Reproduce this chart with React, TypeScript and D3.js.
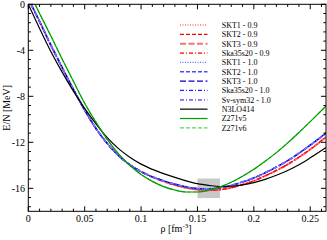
import React, { useRef, useEffect } from "react";
import * as d3 from "d3";

const WIDTH = 327;
const HEIGHT = 240;
const PLOT = { left: 28.3, right: 326, top: 4.3, bottom: 211.3 };

// density grid shared by all curves (fm^-3)
const RHO = [
  0.01, 0.02, 0.03, 0.04, 0.05, 0.06, 0.07, 0.08, 0.09, 0.1, 0.11, 0.12, 0.13,
  0.14, 0.15, 0.16, 0.17, 0.18, 0.19, 0.2, 0.21, 0.22, 0.23, 0.24, 0.25, 0.264,
];

// where each curve leaves E/N = 0
const ONSET_N3LO = 0;
const ONSET_SKYRME = 0.0025;
const ONSET_Z271 = 0.006;

// E/N [MeV]
const E_N3LO = [
  -2.1, -4.1, -5.9, -7.55, -9.05, -10.4, -11.6, -12.55, -13.3, -13.9, -14.35,
  -14.72, -15.05, -15.35, -15.6, -15.75, -15.85, -15.82, -15.7, -15.5, -15.22,
  -14.87, -14.45, -13.95, -13.35, -12.45,
];
const E_SKYRME_10 = [
  -1.5, -3.55, -5.5, -7.4, -9.2, -10.8, -12.1, -13.15, -13.95, -14.55, -15.0,
  -15.35, -15.65, -15.88, -16.02, -16.05, -15.95, -15.75, -15.45, -15.1, -14.65,
  -14.15, -13.6, -12.95, -12.25, -11.2,
];
const E_SKYRME_09 = [
  -1.5, -3.55, -5.5, -7.4, -9.2, -10.8, -12.1, -13.15, -13.95, -14.55, -15.02,
  -15.4, -15.72, -15.96, -16.12, -16.18, -16.12, -15.95, -15.68, -15.35, -14.92,
  -14.45, -13.92, -13.3, -12.62, -11.55,
];
const E_Z271 = [
  -0.8, -2.75, -4.75, -6.7, -8.6, -10.25, -11.75, -13.0, -14.0, -14.8, -15.4,
  -15.85, -16.15, -16.32, -16.32, -16.17, -15.88, -15.47, -14.95, -14.35, -13.65,
  -12.9, -12.05, -11.15, -10.2, -8.85,
];

// saturation box
const BOX_RHO = [0.15, 0.17];
const BOX_E = [-16.85, -15.15];

const X_TICKS = [0, 0.05, 0.1, 0.15, 0.2, 0.25];
const X_TICK_LABELS = ["0", "0.05", "0.1", "0.15", "0.2", "0.25"];
const Y_TICKS = [0, -4, -8, -12, -16];
const Y_TICK_LABELS = ["0", "-4", "-8", "-12", "-16"];

type Series = {
  name: string;
  onset: number;
  values: number[];
  color: string;
  width: number;
  dash: string | null;
  legend: boolean;
};

const SERIES: Series[] = [
  { name: "SKT1 - 0.9", onset: ONSET_SKYRME, values: E_SKYRME_09, color: "#ff2020", width: 1.2, dash: "1,1.5", legend: true },
  { name: "SKT2 - 0.9", onset: ONSET_SKYRME, values: E_SKYRME_09, color: "#ff0000", width: 1.2, dash: "4,2", legend: true },
  { name: "SKT3 - 0.9", onset: ONSET_SKYRME, values: E_SKYRME_09, color: "#ff7070", width: 2, dash: "6,2.5", legend: true },
  { name: "Ska35s20 - 0.9", onset: ONSET_SKYRME, values: E_SKYRME_09, color: "#ff0000", width: 1.2, dash: "4,2,1,2", legend: true },
  { name: "SKT1 - 1.0", onset: ONSET_SKYRME, values: E_SKYRME_10, color: "#6a6aff", width: 1.2, dash: "1,1.5", legend: true },
  { name: "SKT2 - 1.0", onset: ONSET_SKYRME, values: E_SKYRME_10, color: "#4a4aff", width: 1.4, dash: "4,2", legend: true },
  { name: "SKT3 - 1.0", onset: ONSET_SKYRME, values: E_SKYRME_10, color: "#0000d0", width: 1.4, dash: "6,2.5", legend: true },
  { name: "Ska35s20 - 1.0", onset: ONSET_SKYRME, values: E_SKYRME_10, color: "#2020ff", width: 1.2, dash: "4,2,1,2", legend: true },
  { name: "Sv-sym32 - 1.0", onset: ONSET_SKYRME, values: E_SKYRME_10, color: "#7070ff", width: 1.8, dash: "4,2,1,2", legend: true },
  { name: "N3LO414", onset: ONSET_N3LO, values: E_N3LO, color: "#000000", width: 1.2, dash: null, legend: true },
  { name: "Z271v5", onset: ONSET_Z271, values: E_Z271, color: "#00a000", width: 1.2, dash: null, legend: true },
  { name: "Z271v6", onset: ONSET_Z271, values: E_Z271, color: "#60d060", width: 1.2, dash: "4,2", legend: true },
];

// Z271v6 sits underneath Z271v5, so it is drawn first
const DRAW_ORDER = [11, 0, 1, 2, 3, 4, 5, 6, 7, 8, 9, 10];

export default function App() {
  const svgRef = useRef<SVGSVGElement>(null);

  useEffect(() => {
    document.body.style.margin = "0";
    const svg = d3.select(svgRef.current);
    svg.selectAll("*").remove();

    // ── Scales ──────────────────────────────────────────────
    const x = d3.scaleLinear().domain([0, 0.264]).range([PLOT.left, PLOT.right]);
    const y = d3.scaleLinear().domain([-18, 0]).range([PLOT.bottom, PLOT.top]);

    svg
      .append("defs")
      .append("clipPath")
      .attr("id", "plot-clip")
      .append("rect")
      .attr("x", PLOT.left)
      .attr("y", PLOT.top)
      .attr("width", PLOT.right - PLOT.left)
      .attr("height", PLOT.bottom - PLOT.top);

    // ── Saturation box ──────────────────────────────────────
    svg
      .append("rect")
      .attr("x", x(BOX_RHO[0]))
      .attr("y", y(BOX_E[1]))
      .attr("width", x(BOX_RHO[1]) - x(BOX_RHO[0]))
      .attr("height", y(BOX_E[0]) - y(BOX_E[1]))
      .attr("fill", "#c8c8c8");

    // ── Curves ──────────────────────────────────────────────
    const line = d3
      .line<[number, number]>()
      .x((d) => x(d[0]))
      .y((d) => y(d[1]))
      .curve(d3.curveMonotoneX);

    const curves = svg.append("g").attr("clip-path", "url(#plot-clip)");
    DRAW_ORDER.forEach((i) => {
      const s = SERIES[i];
      const pts: [number, number][] = [[s.onset, 0]];
      RHO.forEach((r, j) => pts.push([r, s.values[j]]));
      curves
        .append("path")
        .attr("d", line(pts))
        .attr("fill", "none")
        .attr("stroke", s.color)
        .attr("stroke-width", s.width)
        .attr("stroke-dasharray", s.dash);
    });

    // ── Frame and ticks ─────────────────────────────────────
    const axes = svg.append("g").attr("stroke", "#000").attr("stroke-width", 1);
    axes
      .append("rect")
      .attr("x", PLOT.left)
      .attr("y", PLOT.top)
      .attr("width", PLOT.right - PLOT.left)
      .attr("height", PLOT.bottom - PLOT.top)
      .attr("fill", "none");

    const xMinor = d3.range(0, 0.2641, 0.01);
    xMinor.forEach((v, i) => {
      const len = i % 5 === 0 ? 5 : 2.6;
      const px = x(v);
      axes.append("line").attr("x1", px).attr("x2", px).attr("y1", PLOT.bottom).attr("y2", PLOT.bottom - len);
      axes.append("line").attr("x1", px).attr("x2", px).attr("y1", PLOT.top).attr("y2", PLOT.top + len);
    });

    const yMinor = d3.range(0, 23).map((i) => -i * 0.8).filter((v) => v >= -18);
    yMinor.forEach((v, i) => {
      const len = i % 5 === 0 ? 5 : 2.6;
      const py = y(v);
      axes.append("line").attr("x1", PLOT.left).attr("x2", PLOT.left + len).attr("y1", py).attr("y2", py);
      axes.append("line").attr("x1", PLOT.right).attr("x2", PLOT.right - len).attr("y1", py).attr("y2", py);
    });

    // ── Tick labels ─────────────────────────────────────────
    const font = "'Liberation Serif', 'Times New Roman', serif";
    X_TICKS.forEach((v, i) => {
      svg
        .append("text")
        .attr("x", x(v))
        .attr("y", 222)
        .attr("text-anchor", "middle")
        .attr("font-family", font)
        .attr("font-size", 10)
        .attr("fill", "#000")
        .text(X_TICK_LABELS[i]);
    });
    Y_TICKS.forEach((v, i) => {
      svg
        .append("text")
        .attr("x", 25)
        .attr("y", y(v) + 3.5)
        .attr("text-anchor", "end")
        .attr("font-family", font)
        .attr("font-size", 10)
        .attr("fill", "#000")
        .text(Y_TICK_LABELS[i]);
    });

    // ── Axis titles ─────────────────────────────────────────
    const xt = svg
      .append("text")
      .attr("x", x(0.131))
      .attr("y", 232)
      .attr("text-anchor", "middle")
      .attr("font-family", font)
      .attr("font-size", 10)
      .attr("fill", "#000");
    xt.append("tspan").text("ρ [fm");
    xt.append("tspan").attr("dy", -4).attr("font-size", 7).text("-3");
    xt.append("tspan").attr("dy", 4).text("]");

    svg
      .append("text")
      .attr("transform", `translate(10,${(PLOT.top + PLOT.bottom) / 2}) rotate(-90)`)
      .attr("text-anchor", "middle")
      .attr("font-family", font)
      .attr("font-size", 10)
      .attr("fill", "#000")
      .text("E/N [MeV]");

    // ── Legend ──────────────────────────────────────────────
    const legend = svg.append("g");
    SERIES.filter((s) => s.legend).forEach((s, i) => {
      const ly = 25 + i * 9.35;
      legend
        .append("line")
        .attr("x1", 180)
        .attr("x2", 207.5)
        .attr("y1", ly)
        .attr("y2", ly)
        .attr("stroke", s.color)
        .attr("stroke-width", s.width)
        .attr("stroke-dasharray", s.dash);
      legend
        .append("text")
        .attr("x", 221.7)
        .attr("y", ly + 2.8)
        .attr("font-family", font)
        .attr("font-size", 8)
        .attr("fill", "#000")
        .text(s.name);
    });
  }, []);

  return (
    <svg
      ref={svgRef}
      width={WIDTH}
      height={HEIGHT}
      style={{ display: "block", position: "fixed", left: 0, top: 0, background: "#fff" }}
    />
  );
}
